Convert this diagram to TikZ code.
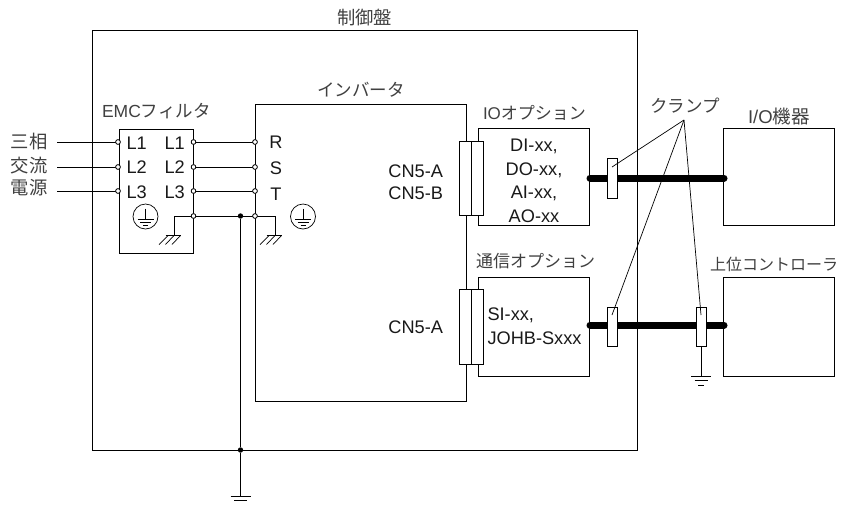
\documentclass[tikz,border=0pt]{standalone}
\usepackage{fontspec}
\setmainfont{Liberation Sans}
\newfontfamily\jp{Noto Sans CJK JP}
\newfontfamily\lat{Liberation Sans}
\newcommand{\bx}[6][]{\node[boxn,#1,minimum width=#5-#3,minimum height=#6-#4] (#2) at ({(#3+#5)/2},{(#4+#6)/2}) {};}
\tikzset{
 x=1pt,y=-1pt,
 boxn/.style={draw=black,fill=none,rectangle,inner sep=0pt,outer sep=0pt,line width=.9pt},
 wire/.style={draw=black,line width=.85pt},
 thin wire/.style={draw=black,line width=.7pt},
 bus/.style={draw=black,line width=7pt,line cap=round},
 term/.style={circle,draw=black,fill=white,line width=.7pt,minimum size=4.6pt,inner sep=0pt,outer sep=0pt},
 dot/.style={circle,fill=black,minimum size=5.4pt,inner sep=0pt,outer sep=0pt},
 lbl/.style={inner sep=0pt,outer sep=0pt,font=\fontsize{18.2}{18.2}\selectfont,text=black!90},
 jlbl/.style={inner sep=0pt,outer sep=0pt,font=\fontsize{17.5}{17.5}\selectfont\jp,text=black!75},
 pe/.style={circle,draw=black,line width=.7pt,minimum size=25pt,inner sep=0pt,outer sep=0pt},
 clamp/.style={boxn,fill=white},
}
\newcommand{\gnd}[1]{
 \draw[wire] ($(#1)+(-10,0)$) -- ($(#1)+(10,0)$);
 \draw[wire] ($(#1)+(-6.5,4.5)$) -- ($(#1)+(6.5,4.5)$);
 \draw[wire] ($(#1)+(-3,9)$) -- ($(#1)+(3,9)$);}
\newcommand{\hatchg}[1]{
 \draw[wire] ($(#1)+(-8.5,0)$) -- ($(#1)+(7,0)$);
 \draw[thin wire] ($(#1)+(-6,0)$) -- ($(#1)+(-15,9)$);
 \draw[thin wire] ($(#1)+(0,0)$) -- ($(#1)+(-8.5,9)$);
 \draw[thin wire] ($(#1)+(6.5,0)$) -- ($(#1)+(-2,9)$);}
\newcommand{\pesym}[1]{
 \draw[thin wire] ($(#1)+(0,-8)$) -- ($(#1)+(0,3)$);
 \draw[thin wire] ($(#1)+(-8,3)$) -- ($(#1)+(8,3)$);
 \draw[thin wire] ($(#1)+(-5.5,6)$) -- ($(#1)+(5.5,6)$);
 \draw[thin wire] ($(#1)+(-2.5,9)$) -- ($(#1)+(2.5,9)$);}
\usetikzlibrary{calc}
\begin{document}
\begin{tikzpicture}
\useasboundingbox (0,0) rectangle (848,504);
% boxes
\bx{panel}{92}{30}{637}{450}
\bx{emc}{119}{129}{193.5}{253}
\bx{inv}{255}{104}{466}{401}
\bx{iobox}{478}{128}{589.5}{225}
\bx{combox}{478}{277}{589.5}{376}
\bx{iodev}{723.5}{128}{834}{225}
\bx{ctrl}{723.5}{277}{834}{376}
% free ends
\coordinate (s1) at (57,142);
\coordinate (s2) at (57,167);
\coordinate (s3) at (57,191);
\coordinate (gndmain) at (240.5,496);
\coordinate (gndclamp) at (701,376);
\coordinate (apex) at (684,120);
\coordinate (ch1) at (174,235.5);
\coordinate (ch2) at (275,235.5);
% terminals
\node[term] (a1) at (118,142) {};
\node[term] (a2) at (118,167) {};
\node[term] (a3) at (118,191) {};
\node[term] (b1) at (193.5,142) {};
\node[term] (b2) at (193.5,167) {};
\node[term] (b3) at (193.5,191) {};
\node[term] (b4) at (193.5,216) {};
\node[term] (r) at (255,142) {};
\node[term] (s) at (255,167) {};
\node[term] (t) at (255,191) {};
\node[term] (e) at (255,216) {};
\node[dot] (j1) at (240.5,216) {};
\node[dot] (j2) at (240.5,450) {};
% wires
\draw[wire] (s1) -- (a1);
\draw[wire] (s2) -- (a2);
\draw[wire] (s3) -- (a3);
\draw[wire] (b1) -- (r);
\draw[wire] (b2) -- (s);
\draw[wire] (b3) -- (t);
\draw[wire] (b4) -- (j1);
\draw[wire] (j1) -- (e);
\draw[wire] (j1) -- (j2);
\draw[wire] (j2) -- (gndmain);
\draw[wire] (b4) -| (ch1);
\draw[wire] (e) -| (ch2);
\hatchg{ch1}
\hatchg{ch2}
\gnd{gndmain}
\gnd{gndclamp}
% earth marks
\node[pe] (pe1) at (145.5,216.5) {};
\node[pe] (pe2) at (303,216.5) {};
\pesym{pe1}
\pesym{pe2}
% redraw terminals above wires
\foreach \n/\x/\y in {a1/118/142,a2/118/167,a3/118/191,b1/193.5/142,b2/193.5/167,b3/193.5/191,b4/193.5/216,r/255/142,s/255/167,t/255/191,e/255/216}
  \node[term] at (\x,\y) {};
% connectors
\bx[fill=white]{cn1}{459.5}{141}{471}{215}
\bx[fill=white]{cn2}{471}{141}{483}{215}
\bx[fill=white]{cn3}{459.5}{289}{471}{364}
\bx[fill=white]{cn4}{471}{289}{483}{364}
% buses
\coordinate (u1) at (590,178);
\coordinate (u2) at (724,178);
\coordinate (l1) at (590,325);
\coordinate (l2) at (724,325);
\draw[bus] (u1) -- (u2);
\draw[bus] (l1) -- (l2);
% clamps
\bx[clamp]{c1}{607}{158}{617}{198}
\bx[clamp]{c2}{607}{307}{617}{346}
\bx[clamp]{c3}{696}{307}{706}{346}
\draw[wire] (c3.south) -- (gndclamp);
\coordinate (c1t) at (612,167);
\coordinate (c2t) at (612,315);
\coordinate (c3t) at (701,315);
\draw[thin wire] (apex) -- (c1t);
\draw[thin wire] (apex) -- (c2t);
\draw[thin wire] (apex) -- (c3t);
% labels
\node[jlbl,font=\fontsize{18.3}{18.3}\selectfont\jp] (t0) at (364.5,18) {制御盤};
\node[jlbl] (t1) at (361,90) {インバータ};
\node[jlbl,anchor=west] (t2) at (102,111) {{\lat EMC}フィルタ};
\node[jlbl,anchor=west,font=\fontsize{17}{17}\selectfont\jp] (t3) at (483,113) {{\lat IO}オプション};
\node[jlbl,font=\fontsize{17}{17}\selectfont\jp] (t4) at (535.5,261) {通信オプション};
\node[jlbl] (t5) at (685,106) {クランプ};
\node[jlbl,anchor=west,font=\fontsize{18.5}{18.5}\selectfont\jp] (t6) at (748,116) {{\lat I/O}機器};
\node[jlbl,font=\fontsize{16}{16}\selectfont\jp] (t7) at (774,264) {上位コントローラ};
\node[jlbl,font=\fontsize{18.3}{18.3}\selectfont\jp] (t8) at (29,142) {三相};
\node[jlbl,font=\fontsize{18.3}{18.3}\selectfont\jp] (t9) at (29,166) {交流};
\node[jlbl,font=\fontsize{18.3}{18.3}\selectfont\jp] (t10) at (29,188) {電源};
\node[lbl,anchor=west] at (126.5,143) {L1};
\node[lbl,anchor=west] at (126.5,167) {L2};
\node[lbl,anchor=west] at (126.5,192) {L3};
\node[lbl,anchor=west] at (164.5,143) {L1};
\node[lbl,anchor=west] at (164.5,167) {L2};
\node[lbl,anchor=west] at (164.5,192) {L3};
\node[lbl] at (276,142) {R};
\node[lbl] at (276,168) {S};
\node[lbl] at (276,194) {T};
\node[lbl,anchor=east] at (443,171) {CN5-A};
\node[lbl,anchor=east] at (443,193) {CN5-B};
\node[lbl,anchor=east] at (443,327) {CN5-A};
\node[lbl] at (534,146) {DI-xx,};
\node[lbl] at (534,170) {DO-xx,};
\node[lbl] at (534,193) {AI-xx,};
\node[lbl] at (534,216) {AO-xx};
\node[lbl,anchor=west] at (487.5,315) {SI-xx,};
\node[lbl,anchor=west] at (487.5,338) {JOHB-Sxxx};
\end{tikzpicture}
\end{document}
